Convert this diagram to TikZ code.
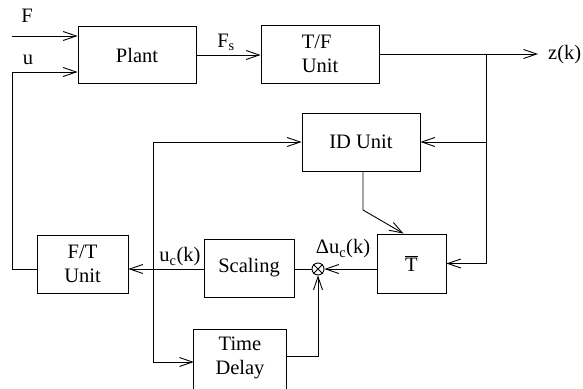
\documentclass[tikz,border=0pt]{standalone}
\usepackage{fontspec}
\setmainfont{Liberation Serif}
\usetikzlibrary{arrows.meta}
\begin{document}
\begin{tikzpicture}[x=1pt,y=-1pt,
  every node/.style={font=\fontsize{20.5}{24}\selectfont},
  blk/.style={draw,line width=0.9pt,rectangle,inner sep=0pt},
  ln/.style={line width=0.9pt},
  arr/.style={line width=0.9pt,-{Straight Barb[length=13pt,width=9pt,line width=0.9pt]}},
  lbl/.style={inner sep=0pt}]
\useasboundingbox (0,0) rectangle (583,388);
% blocks
\node[blk,minimum width=118,minimum height=57] (plant) at (137,55) {Plant};
\node[blk,minimum width=118,minimum height=58,align=left] (tf) at (320,54) {T/F\\Unit};
\node[blk,minimum width=118,minimum height=58] (id) at (361,142) {ID Unit};
\node[blk,minimum width=69,minimum height=59] (T) at (411.5,263.5) {$\overline{\hbox{T}}$};
\node[blk,minimum width=90,minimum height=58] (sc) at (249,268) {Scaling};
\node[blk,minimum width=91,minimum height=58,align=center] (ft) at (82.5,264) {F/T\\Unit};
\node[minimum width=92,minimum height=56,inner sep=0pt,align=center] (td) at (240,358) {Time\\Delay};
\draw[ln] (td.north west) rectangle ([yshift=-10pt]td.south east);
\node[draw,circle,line width=0.9pt,minimum size=12,inner sep=0pt] (sum) at (318,269) {};
\draw[ln] (sum.north west) -- (sum.south east) (sum.north east) -- (sum.south west);
% coordinates
\coordinate (fin) at (12,36);
\coordinate (uc) at (12,72);
\coordinate (zout) at (538,54);
\coordinate (br) at (486,54);
\coordinate (idb) at (363,210);
\coordinate (j) at (153,269);
% connectors
\draw[arr] (fin) -- (fin -| plant.west);
\draw[arr] (ft.west |- sum) -| (uc) -- (uc -| plant.west);
\draw[arr] (plant.east) -- (plant.east -| tf.west);
\draw[arr] (tf.east) -- (zout);
\draw[arr] (br) |- (T.east);
\draw[arr] (br |- id) -- (id.east);
\draw[arr] (id.south -| idb) -- (idb) -- ([xshift=-8pt]T.north);
\draw[arr] (sum -| T.west) -- (sum.east);
\draw[ln] (sum -| sc.east) -- (sum.west);
\draw[arr] (sum -| sc.west) -- (sum -| ft.east);
\draw[arr] (j) |- (id.west);
\draw[arr] (j) |- ([yshift=-4pt]td.west);
\draw[arr] ([yshift=2pt]td.east) -| (sum.south);
% labels
\node[lbl] (lF) at (27,16) {F};
\node[lbl] (lu) at (28,60) {u};
\node[lbl] (lFs) at (226,42) {F\textsubscript{s}};
\node[lbl,anchor=west] (lz) at (548,55) {z(k)};
\node[lbl] (luc) at (180,257) {u\textsubscript{c}(k)};
\node[lbl] (lduc) at (343,249) {Δu\textsubscript{c}(k)};
\end{tikzpicture}
\end{document}
